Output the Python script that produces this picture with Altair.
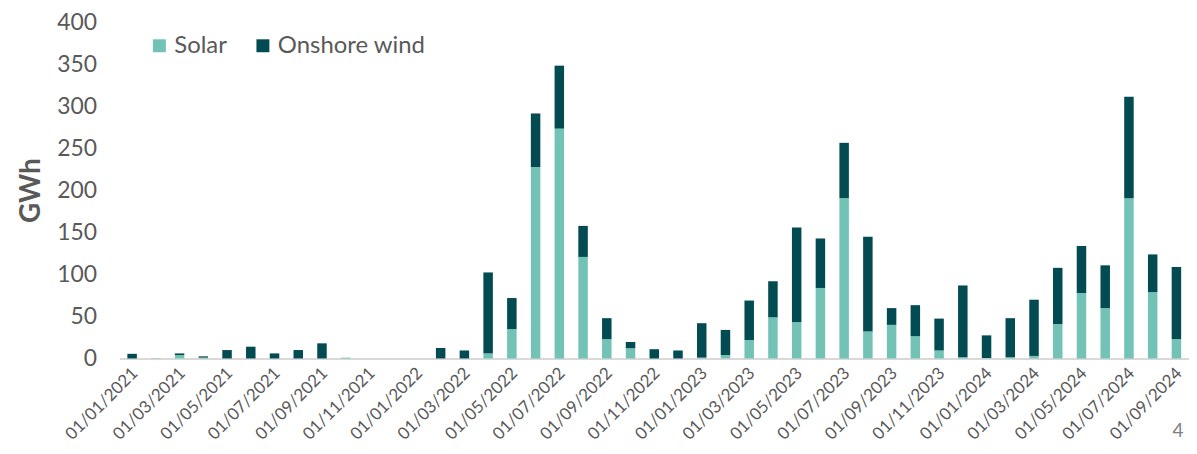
import altair as alt
import pandas as pd

months = [
    "01/01/2021", "01/02/2021", "01/03/2021", "01/04/2021", "01/05/2021", "01/06/2021",
    "01/07/2021", "01/08/2021", "01/09/2021", "01/10/2021", "01/11/2021", "01/12/2021",
    "01/01/2022", "01/02/2022", "01/03/2022", "01/04/2022", "01/05/2022", "01/06/2022",
    "01/07/2022", "01/08/2022", "01/09/2022", "01/10/2022", "01/11/2022", "01/12/2022",
    "01/01/2023", "01/02/2023", "01/03/2023", "01/04/2023", "01/05/2023", "01/06/2023",
    "01/07/2023", "01/08/2023", "01/09/2023", "01/10/2023", "01/11/2023", "01/12/2023",
    "01/01/2024", "01/02/2024", "01/03/2024", "01/04/2024", "01/05/2024", "01/06/2024",
    "01/07/2024", "01/08/2024", "01/09/2024",
]

solar = [
    0, 0.5, 4, 1, 0, 0, 0, 0, 0, 1, 0, 0,
    0, 0, 0, 6, 35, 228, 274, 121, 23, 12, 0, 0,
    1, 4, 22, 49, 43, 84, 191, 32, 40, 26.5, 9.5, 1.5,
    0.5, 1.5, 3, 41, 78, 60, 191, 79, 23,
]

onshore_wind = [
    5.5, 0, 2, 1.5, 10, 14, 6, 10, 18, 0, 0, 0,
    0, 12.5, 9.5, 96.5, 37, 64, 75, 37, 25, 7.5, 11, 9.5,
    41, 30, 47, 43, 113, 59, 66, 113, 20, 37, 38, 85.5,
    27, 46.5, 67, 67, 56, 51, 121, 45, 86,
]

series = ["Solar", "Onshore wind"]
colors = ["#72C3B5", "#024B53"]
tick_labels = months[::2]
y_ticks = [0, 50, 100, 150, 200, 250, 300, 350, 400]

rows = []
for m, s, w in zip(months, solar, onshore_wind):
    rows.append({"month": m, "series": "Solar", "value": s, "order": 0})
    rows.append({"month": m, "series": "Onshore wind", "value": w, "order": 1})
df = pd.DataFrame(rows)

FONT = "Lato"
GREY = "#595959"

bars = alt.Chart(df).mark_bar().encode(
    x=alt.X(
        "month:N",
        sort=months,
        scale=alt.Scale(paddingInner=0.6, paddingOuter=0.33),
        axis=alt.Axis(
            title=None,
            values=tick_labels,
            labelAngle=-45,
            labelAlign="right",
            labelBaseline="middle",
            labelPadding=12,
            labelOffset=3,
            labelFontSize=17,
            labelColor=GREY,
            labelFont=FONT,
            ticks=False,
            domainColor="#D9D9D9",
            domainWidth=2,
            grid=False,
        ),
    ),
    y=alt.Y(
        "value:Q",
        stack="zero",
        scale=alt.Scale(domain=[0, 400], nice=False),
        axis=alt.Axis(
            title="GWh",
            values=y_ticks,
            labelFontSize=23,
            labelColor=GREY,
            labelFont=FONT,
            labelPadding=23,
            ticks=False,
            domain=False,
            grid=False,
            titleFont=FONT,
            titleFontSize=28,
            titleFontWeight="bold",
            titleColor=GREY,
            titleAngle=-90,
            titleX=-88,
            titleY=168,
            titleAlign="center",
            titleBaseline="middle",
        ),
    ),
    color=alt.Color(
        "series:N",
        scale=alt.Scale(domain=series, range=colors),
        sort=series,
        legend=alt.Legend(
            title=None,
            orient="none",
            legendX=28,
            legendY=11,
            direction="horizontal",
            symbolType="square",
            symbolSize=169,
            symbolStrokeWidth=0,
            symbolOpacity=1,
            labelFontSize=24,
            labelFont=FONT,
            labelColor=GREY,
            labelOffset=3,
            columnPadding=24,
            padding=0,
        ),
    ),
    order=alt.Order("order:Q"),
)

page_num = alt.Chart(pd.DataFrame({"t": ["4"]})).mark_text(
    font=FONT, fontSize=19, color="#7F7F7F", align="center", baseline="bottom"
).encode(text="t:N", x=alt.value(1063), y=alt.value(420))

chart = (
    alt.layer(bars, page_num)
    .properties(
        width=1074,
        height=337,
        background="white",
        autosize=alt.AutoSizeParams(type="none"),
        padding={"left": 112, "top": 14, "right": 0, "bottom": 86},
    )
    .configure_view(strokeWidth=0, stroke=None)
)

chart.save("out.html", embed_options={"renderer": "svg", "actions": False})
